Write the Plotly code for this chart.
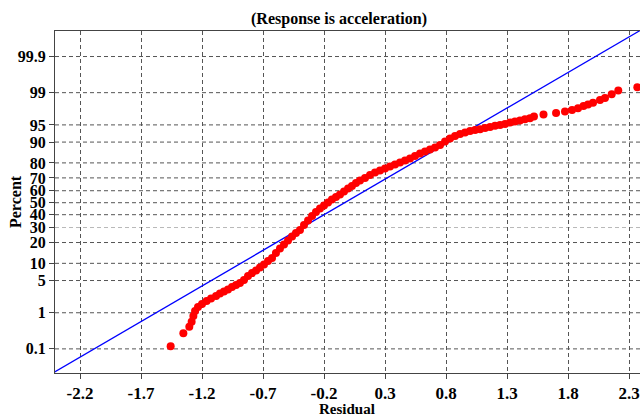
import plotly.graph_objects as go
from statistics import NormalDist

# ---- data ----
residuals = [
    -1.457, -1.353, -1.304, -1.285, -1.271, -1.257, -1.233, -1.200, -1.162, -1.126,
    -1.085, -1.053, -1.020, -0.987, -0.954, -0.921, -0.889, -0.856, -0.823, -0.790,
    -0.757, -0.725, -0.692, -0.659, -0.626, -0.594, -0.561, -0.528, -0.495, -0.462,
    -0.430, -0.397, -0.364, -0.331, -0.298, -0.266, -0.233, -0.200, -0.167, -0.135,
    -0.102, -0.069, -0.036, -0.003, 0.029, 0.062, 0.095, 0.136, 0.177, 0.218,
    0.259, 0.300, 0.341, 0.382, 0.423, 0.464, 0.505, 0.546, 0.587, 0.628,
    0.669, 0.710, 0.751, 0.792, 0.833, 0.874, 0.915, 0.956, 0.997, 1.038,
    1.079, 1.120, 1.161, 1.202, 1.243, 1.284, 1.325, 1.365, 1.406, 1.447,
    1.488, 1.521, 1.599, 1.702, 1.775, 1.833, 1.882, 1.927, 1.964, 2.005,
    2.062, 2.103, 2.158, 2.212, 2.368,
]
percents = [
    0.12, 0.29, 0.44, 0.59, 0.83, 1.10, 1.37, 1.61, 1.89, 2.14,
    2.43, 2.74, 3.03, 3.33, 3.74, 4.09, 4.48, 5.11, 6.06, 6.86,
    7.59, 8.53, 9.56, 10.9, 12.1, 14.4, 16.7, 18.8, 21.2, 23.7,
    26.1, 28.2, 31.9, 35.3, 38.9, 42.2, 45.1, 47.6, 50.2, 52.7,
    54.8, 56.9, 59.4, 61.8, 63.8, 66.1, 68.1, 69.9, 72.1, 73.8,
    75.2, 76.5, 77.8, 79.0, 80.2, 81.4, 82.5, 83.8, 85.1, 86.0,
    87.0, 87.8, 88.9, 90.2, 91.3, 92.1, 92.7, 93.1, 93.5, 93.8,
    94.0, 94.3, 94.5, 94.8, 95.0, 95.2, 95.5, 95.7, 95.9, 96.1,
    96.3, 96.6, 96.9, 97.1, 97.3, 97.5, 97.7, 97.95, 98.1, 98.27,
    98.5, 98.66, 98.9, 99.11, 99.27,
]
fit_mean = -0.03
fit_stdev = 0.665

percent_ticks = [0.1, 1, 5, 10, 20, 30, 40, 50, 60, 70, 80, 90, 95, 99, 99.9]
percent_labels = ["0.1", "1", "5", "10", "20", "30", "40", "50", "60", "70",
                  "80", "90", "95", "99", "99.9"]
residual_ticks = [-2.2, -1.7, -1.2, -0.7, -0.2, 0.3, 0.8, 1.3, 1.8, 2.3]
residual_labels = ["-2.2", "-1.7", "-1.2", "-0.7", "-0.2", "0.3", "0.8", "1.3", "1.8", "2.3"]

title_text = "(Response is acceleration)"
x_title = "Residual"
y_title = "Percent"

# ---- probability (probit) scale ----
nd = NormalDist()
def probit(p):
    return nd.inv_cdf(p / 100.0)

x_range = [-2.405, 2.39]
y_range = [-3.60, 3.63]

FONT = "Liberation Serif"
GRID = "#555555"
AXIS = "#444444"

fig = go.Figure()

# fitted normal line
fx = [x_range[0] - 0.2, x_range[1] + 0.2]
fy = [(v - fit_mean) / fit_stdev for v in fx]
fig.add_trace(go.Scatter(x=fx, y=fy, mode="lines",
                         line=dict(color="#0000ff", width=1.3),
                         hoverinfo="skip", showlegend=False))

fig.add_trace(go.Scatter(x=residuals, y=[probit(p) for p in percents],
                         mode="markers",
                         marker=dict(color="#ff0000", size=8, line=dict(width=0)),
                         showlegend=False))

# horizontal grid lines at the percent ticks
shapes = []
for p in percent_ticks:
    col = "#b8b8b8" if p == 30 else GRID
    shapes.append(dict(type="line", xref="paper", x0=0, x1=1, yref="y",
                       y0=probit(p), y1=probit(p), layer="below",
                       line=dict(color=col, width=1, dash="4px,3px")))

fig.update_layout(
    width=640, height=417,
    margin=dict(l=55, r=0, t=31, b=44),
    paper_bgcolor="white", plot_bgcolor="white",
    shapes=shapes,
    title=dict(text=title_text, x=(339 - 55) / 585, xref="paper",
               y=1 - 18 / 417, yref="container", xanchor="center", yanchor="middle",
               font=dict(family=FONT, size=16, color="black", weight="bold")),
    xaxis=dict(range=x_range, tickvals=residual_ticks, ticktext=residual_labels,
               showgrid=True, gridcolor=GRID, gridwidth=1, griddash="4px,3px",
               zeroline=False, showline=True, linecolor=AXIS, linewidth=1, mirror=True,
               ticks="outside", ticklen=5, tickcolor=AXIS,
               tickfont=dict(family=FONT, size=17, color="black", weight="bold")),
    yaxis=dict(range=y_range, tickvals=[probit(p) for p in percent_ticks],
               ticktext=percent_labels, showgrid=False, zeroline=False,
               showline=True, linecolor=AXIS, linewidth=1, mirror=False,
               ticks="outside", ticklen=5, tickcolor=AXIS,
               tickfont=dict(family=FONT, size=16, color="black", weight="bold")),
    annotations=[
        dict(text=x_title, xref="paper", yref="paper", x=(347 - 55) / 585,
             y=-(409 - 373) / 342, xanchor="center", yanchor="middle", showarrow=False,
             font=dict(family=FONT, size=15, color="black", weight="bold")),
        dict(text=y_title, xref="paper", yref="paper", x=(15 - 55) / 585,
             y=(373 - 201) / 342, xanchor="center", yanchor="middle", showarrow=False,
             textangle=-90,
             font=dict(family=FONT, size=16, color="black", weight="bold")),
    ],
)

fig.write_html("out.html")
